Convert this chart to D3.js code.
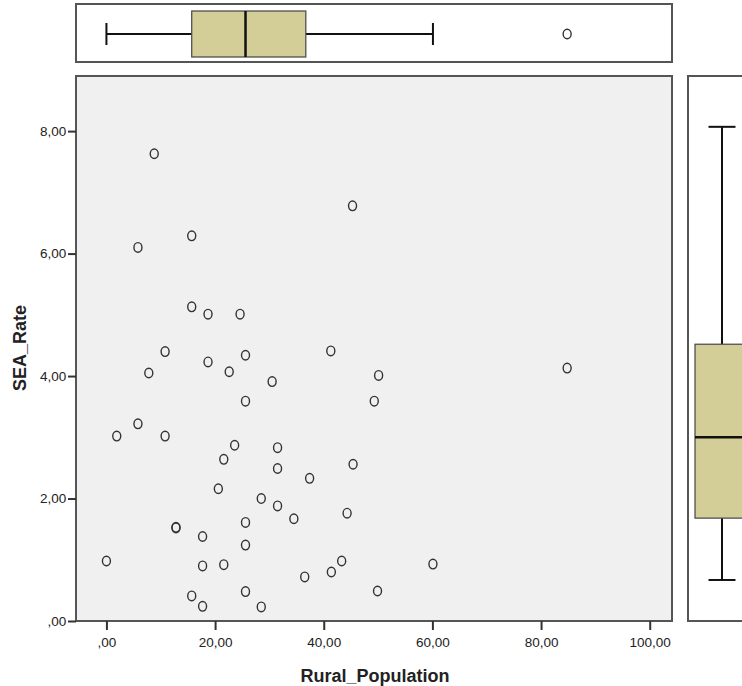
<!DOCTYPE html>
<html>
<head>
<meta charset="utf-8">
<script src="https://cdn.jsdelivr.net/npm/d3@7"></script>
<style>
  body { margin: 0; background: #fff; }
  svg { display: block; font-family: "Liberation Sans", Arial, sans-serif; }
</style>
</head>
<body>
<div id="chart"></div>
<script>
// scatter data
const ruralPopulation = [8.8, 45.3, 5.8, 15.7, 15.7, 18.7, 24.6, 10.8, 18.7, 25.6, 41.3, 7.8, 22.6, 30.5, 50.1, 84.8,
  25.6, 49.3, 5.8, 1.9, 10.8, 23.6, 31.5, 21.6, 31.5, 45.4, 37.4, 20.6, 28.5, 31.5, 34.5, 44.3, 12.8, 12.8,
  25.6, 17.7, 25.6, 0.0, 17.7, 21.6, 43.3, 41.4, 36.5, 60.1, 15.7, 25.6, 49.9, 17.7, 28.5];
const seaRate = [7.63, 6.78, 6.10, 6.29, 5.13, 5.01, 5.01, 4.40, 4.23, 4.34, 4.41, 4.05, 4.07, 3.91, 4.01, 4.13,
  3.59, 3.59, 3.22, 3.02, 3.02, 2.87, 2.83, 2.64, 2.49, 2.56, 2.33, 2.16, 2.00, 1.88, 1.67, 1.76, 1.52, 1.53,
  1.61, 1.38, 1.24, 0.98, 0.90, 0.92, 0.98, 0.80, 0.72, 0.93, 0.41, 0.48, 0.49, 0.24, 0.23];

// marginal box plot summaries
const ruralBox = { min: 0, q1: 15.7, median: 25.6, q3: 36.7, max: 60.1 };
const ruralOutliers = [84.8];
const seaBox = { min: 0.23, q1: 1.24, median: 2.56, q3: 4.08, max: 7.63 };

const xTicks = [0, 20, 40, 60, 80, 100];
const yTicks = [0, 2, 4, 6, 8];

const width = 742, height = 686;
const plot = { left: 76, right: 672, top: 76, bottom: 621 };

const svg = d3.select("#chart").append("svg")
  .attr("width", width)
  .attr("height", height);

const x = d3.scaleLinear().domain([-5.6, 104.1]).range([plot.left, plot.right]);
const y = d3.scaleLinear().domain([0, 8.9]).range([plot.bottom, plot.top]);
// the right box plot is drawn a little higher than the scatter scale in the original
const yBox = d3.scaleLinear().domain([-0.44, 8.46]).range([plot.bottom, plot.top]);

const loc = d3.formatLocale({ decimal: ",", thousands: ".", grouping: [3], currency: ["", ""] });
const fmt = d => d === 0 ? ",00" : loc.format(".2f")(d);

const frameColor = "#555";
const boxFill = "#d3ce97";

// main plot background
svg.append("rect")
  .attr("x", plot.left).attr("y", plot.top)
  .attr("width", plot.right - plot.left).attr("height", plot.bottom - plot.top)
  .attr("fill", "#f0f0f0")
  .attr("stroke", frameColor).attr("stroke-width", 2);

// axes
const xAxis = svg.append("g")
  .attr("transform", `translate(0,${plot.bottom})`)
  .call(d3.axisBottom(x).tickValues(xTicks).tickFormat(fmt).tickSize(9).tickSizeOuter(0));
const yAxis = svg.append("g")
  .attr("transform", `translate(${plot.left},0)`)
  .call(d3.axisLeft(y).tickValues(yTicks).tickFormat(fmt).tickSize(8).tickSizeOuter(0));

[xAxis, yAxis].forEach(g => {
  g.select(".domain").remove();
  g.selectAll(".tick line").attr("stroke", "#333").attr("stroke-width", 2);
  g.selectAll(".tick text").attr("fill", "#222").style("font-size", "13.5px");
});
xAxis.selectAll(".tick text").attr("dy", "1.05em");
yAxis.selectAll(".tick text").attr("dx", "0.1em");

// axis titles
svg.append("text")
  .attr("x", 375).attr("y", 682)
  .attr("text-anchor", "middle")
  .style("font-size", "18px").style("font-weight", "bold").attr("fill", "#222")
  .text("Rural_Population");
svg.append("text")
  .attr("transform", `translate(26,348) rotate(-90)`)
  .attr("text-anchor", "middle")
  .style("font-size", "18px").style("font-weight", "bold").attr("fill", "#222")
  .text("SEA_Rate");

// scatter points
const pts = ruralPopulation.map((r, i) => ({ r: r, s: seaRate[i] }));
svg.append("g").selectAll("ellipse")
  .data(pts)
  .enter().append("ellipse")
  .attr("cx", d => x(d.r))
  .attr("cy", d => y(d.s))
  .attr("rx", 4).attr("ry", 4.8)
  .attr("fill", "none")
  .attr("stroke", "#333").attr("stroke-width", 1.4);

// top marginal box plot (Rural_Population)
const topPanel = { y0: 4, y1: 62 };
const cy = (topPanel.y0 + topPanel.y1) / 2 + 1;
svg.append("rect")
  .attr("x", plot.left).attr("y", topPanel.y0)
  .attr("width", plot.right - plot.left).attr("height", topPanel.y1 - topPanel.y0)
  .attr("fill", "#fff").attr("stroke", frameColor).attr("stroke-width", 2);

const gTop = svg.append("g");
gTop.append("line")
  .attr("x1", x(ruralBox.min)).attr("x2", x(ruralBox.q1)).attr("y1", cy).attr("y2", cy)
  .attr("stroke", "#111").attr("stroke-width", 2);
gTop.append("line")
  .attr("x1", x(ruralBox.q3)).attr("x2", x(ruralBox.max)).attr("y1", cy).attr("y2", cy)
  .attr("stroke", "#111").attr("stroke-width", 2);
[ruralBox.min, ruralBox.max].forEach(v => {
  gTop.append("line")
    .attr("x1", x(v)).attr("x2", x(v)).attr("y1", cy - 11).attr("y2", cy + 11)
    .attr("stroke", "#111").attr("stroke-width", 2);
});
gTop.append("rect")
  .attr("x", x(ruralBox.q1)).attr("y", cy - 23)
  .attr("width", x(ruralBox.q3) - x(ruralBox.q1)).attr("height", 46)
  .attr("fill", boxFill).attr("stroke", "#444").attr("stroke-width", 1.2);
gTop.append("line")
  .attr("x1", x(ruralBox.median)).attr("x2", x(ruralBox.median))
  .attr("y1", cy - 23).attr("y2", cy + 23)
  .attr("stroke", "#111").attr("stroke-width", 2.5);
gTop.selectAll(".outlier")
  .data(ruralOutliers)
  .enter().append("ellipse")
  .attr("cx", d => x(d)).attr("cy", cy)
  .attr("rx", 4).attr("ry", 4.8)
  .attr("fill", "none").attr("stroke", "#333").attr("stroke-width", 1.4);

// right marginal box plot (SEA_Rate), cut off by the window edge
const rightPanel = { x0: 688, cx: 722 };
svg.append("rect")
  .attr("x", rightPanel.x0).attr("y", plot.top)
  .attr("width", 80).attr("height", plot.bottom - plot.top)
  .attr("fill", "#fff").attr("stroke", frameColor).attr("stroke-width", 2);

const gRight = svg.append("g");
gRight.append("line")
  .attr("x1", rightPanel.cx).attr("x2", rightPanel.cx).attr("y1", yBox(seaBox.max)).attr("y2", yBox(seaBox.q3))
  .attr("stroke", "#111").attr("stroke-width", 2);
gRight.append("line")
  .attr("x1", rightPanel.cx).attr("x2", rightPanel.cx).attr("y1", yBox(seaBox.q1)).attr("y2", yBox(seaBox.min))
  .attr("stroke", "#111").attr("stroke-width", 2);
[seaBox.min, seaBox.max].forEach(v => {
  gRight.append("line")
    .attr("x1", rightPanel.cx - 13.5).attr("x2", rightPanel.cx + 13.5).attr("y1", yBox(v)).attr("y2", yBox(v))
    .attr("stroke", "#111").attr("stroke-width", 2);
});
gRight.append("rect")
  .attr("x", rightPanel.cx - 27).attr("y", yBox(seaBox.q3))
  .attr("width", 54).attr("height", yBox(seaBox.q1) - yBox(seaBox.q3))
  .attr("fill", boxFill).attr("stroke", "#444").attr("stroke-width", 1.2);
gRight.append("line")
  .attr("x1", rightPanel.cx - 27).attr("x2", rightPanel.cx + 27)
  .attr("y1", yBox(seaBox.median)).attr("y2", yBox(seaBox.median))
  .attr("stroke", "#111").attr("stroke-width", 2.5);
</script>
</body>
</html>
